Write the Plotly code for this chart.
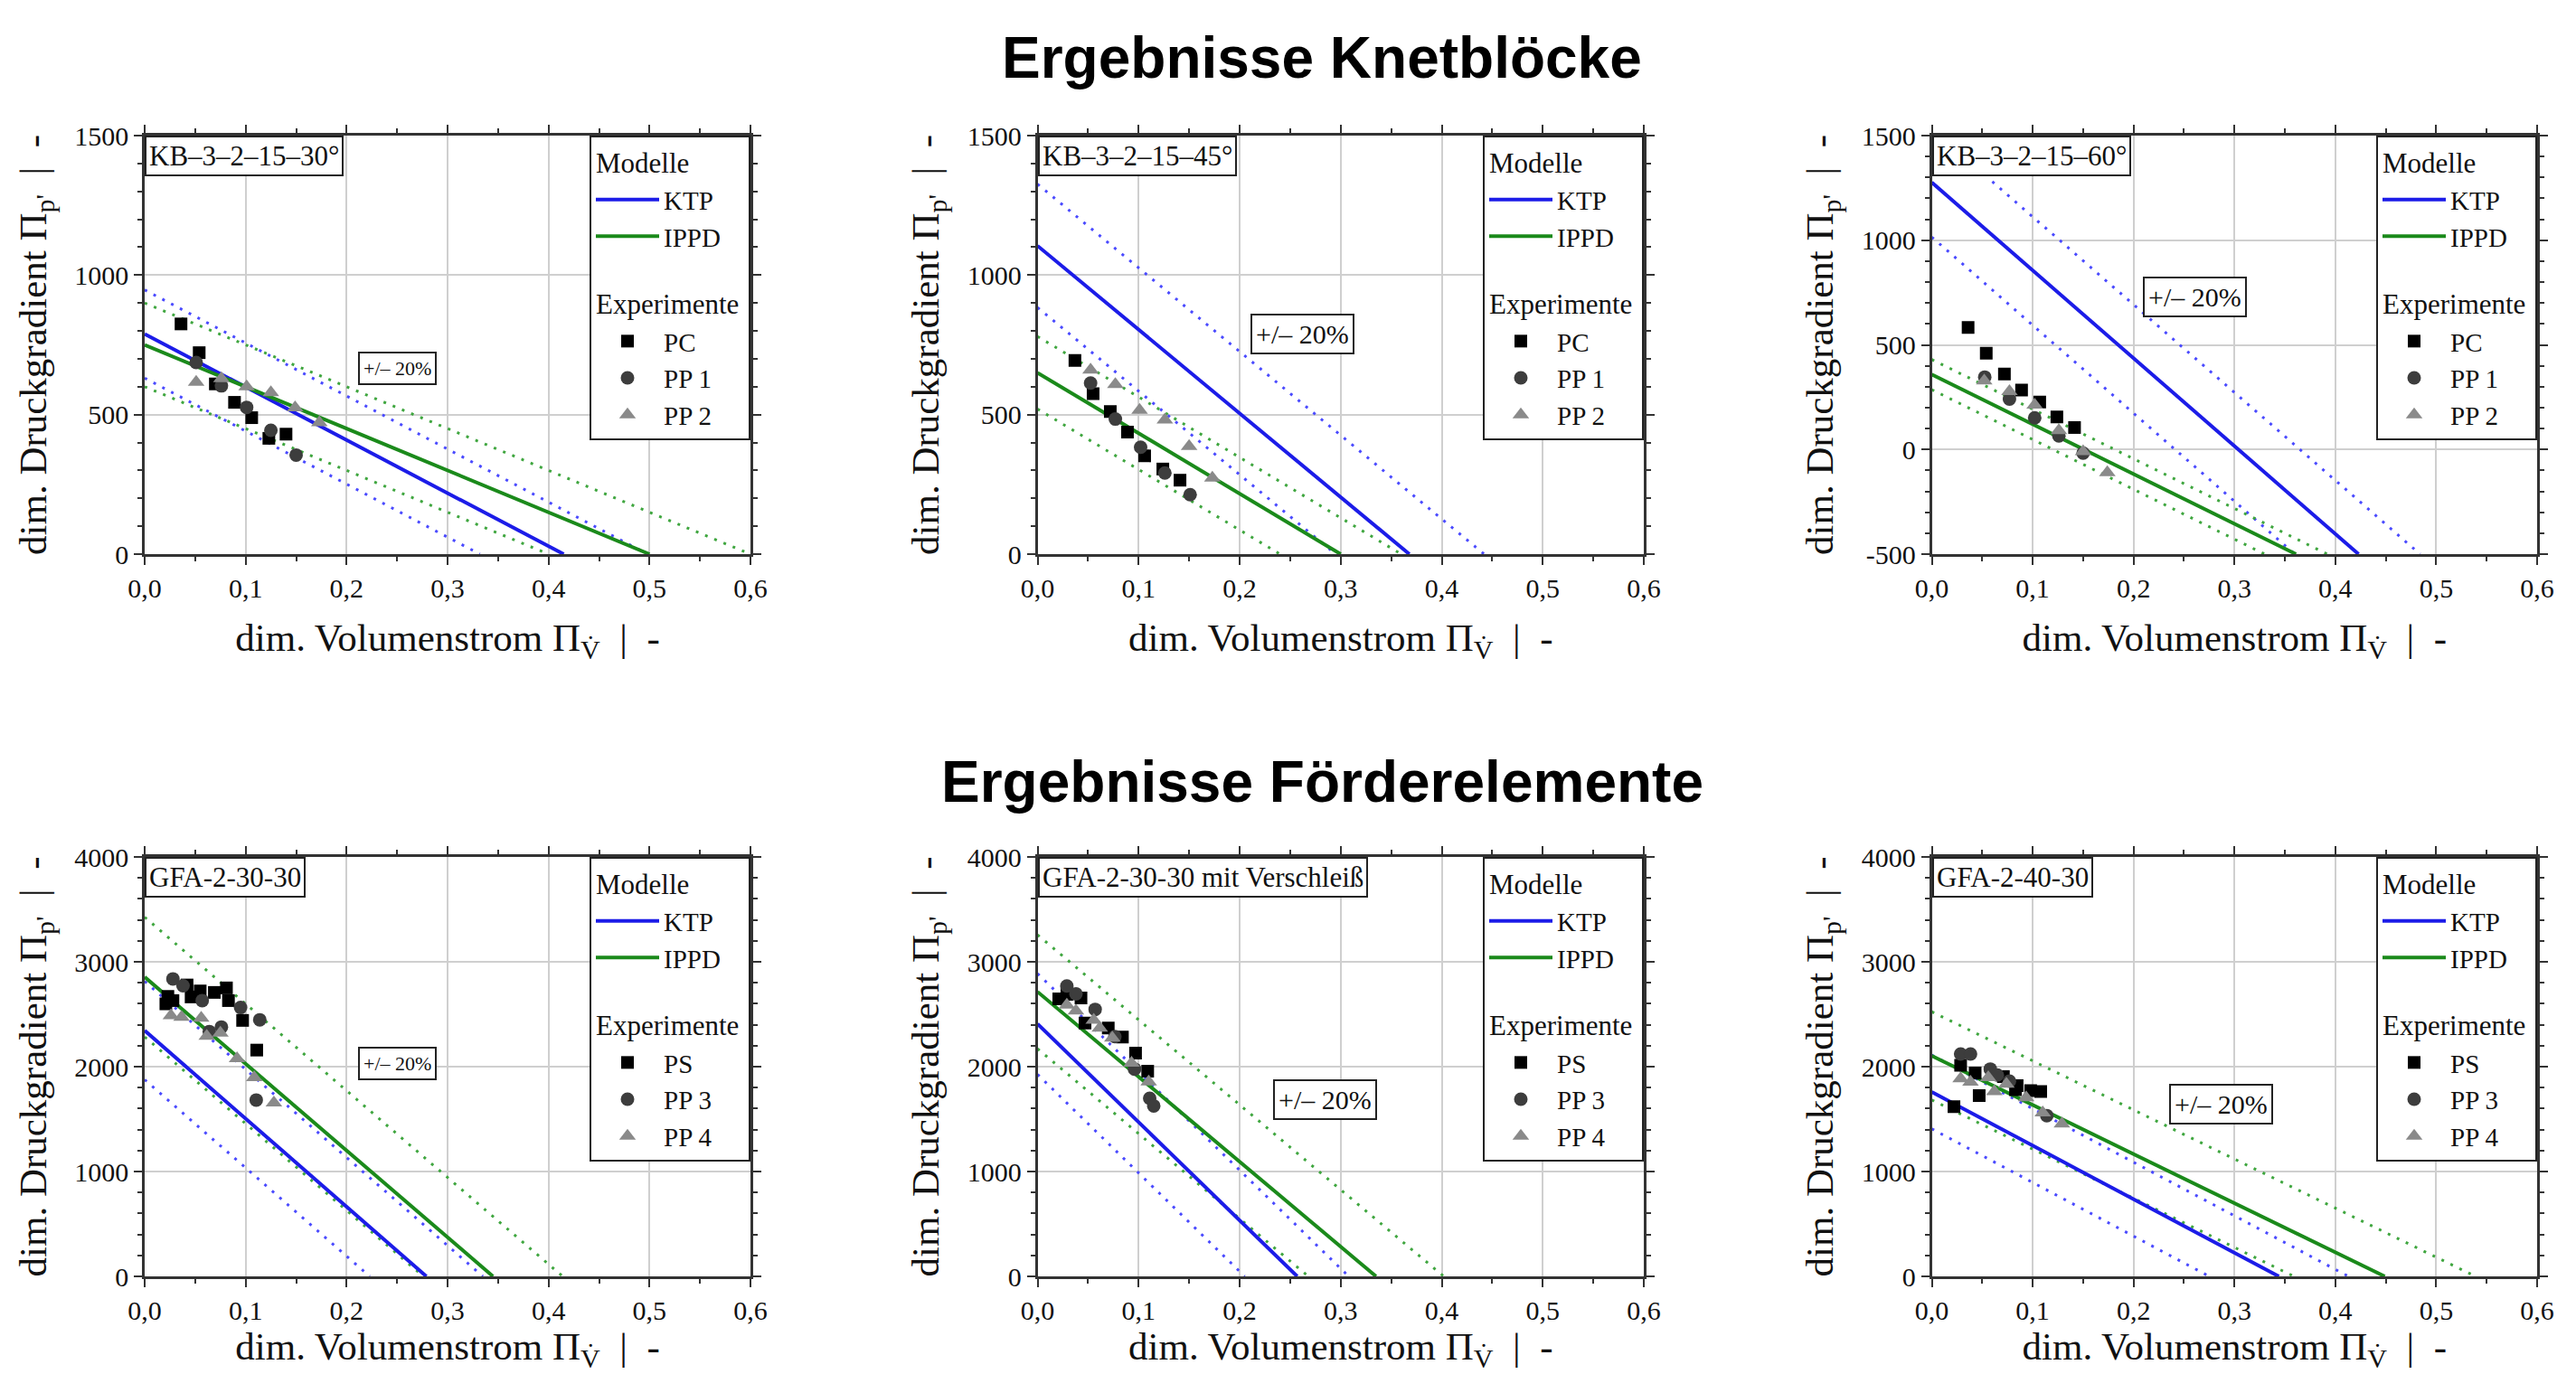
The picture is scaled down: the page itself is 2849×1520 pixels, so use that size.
import plotly.graph_objects as go

# ---------------- tick labels ----------------
x_tickvals = [0, 0.1, 0.2, 0.3, 0.4, 0.5, 0.6]
x_ticktext = ["0,0", "0,1", "0,2", "0,3", "0,4", "0,5", "0,6"]
kb_y_tickvals = [0, 500, 1000, 1500]
kb_y_ticktext = ["0", "500", "1000", "1500"]
kb60_y_tickvals = [-500, 0, 500, 1000, 1500]
kb60_y_ticktext = ["-500", "0", "500", "1000", "1500"]
gfa_y_tickvals = [0, 1000, 2000, 3000, 4000]
gfa_y_ticktext = ["0", "1000", "2000", "3000", "4000"]

# ---------------- KB-3-2-15-30° ----------------
kb30_pc_x = [0.036, 0.054, 0.070, 0.089, 0.106, 0.123, 0.140]
kb30_pc_y = [825, 722, 610, 544, 489, 415, 430]
kb30_pp1_x = [0.051, 0.076, 0.101, 0.125, 0.150]
kb30_pp1_y = [687, 603, 526, 444, 355]
kb30_pp2_x = [0.051, 0.076, 0.101, 0.125, 0.149, 0.173]
kb30_pp2_y = [616, 629, 600, 579, 525, 471]
kb30_ktp_x, kb30_ktp_y = [0, 0.415], [789, 0]
kb30_ktp_hi_x, kb30_ktp_hi_y = [0, 0.498], [947, 0]
kb30_ktp_lo_x, kb30_ktp_lo_y = [0, 0.332], [631, 0]
kb30_ippd_x, kb30_ippd_y = [0, 0.5], [750, 0]
kb30_ippd_hi_x, kb30_ippd_hi_y = [0, 0.6], [900, 0]
kb30_ippd_lo_x, kb30_ippd_lo_y = [0, 0.4], [600, 0]

# ---------------- KB-3-2-15-45° ----------------
kb45_pc_x = [0.037, 0.055, 0.072, 0.089, 0.106, 0.124, 0.141]
kb45_pc_y = [694, 575, 511, 437, 352, 305, 265]
kb45_pp1_x = [0.0525, 0.077, 0.102, 0.126, 0.151]
kb45_pp1_y = [613, 484, 383, 291, 213]
kb45_pp2_x = [0.0525, 0.077, 0.101, 0.126, 0.150, 0.173]
kb45_pp2_y = [660, 608, 516, 481, 386, 273]
kb45_ktp_x, kb45_ktp_y = [0, 0.368], [1105, 0]
kb45_ktp_hi_x, kb45_ktp_hi_y = [0, 0.442], [1326, 0]
kb45_ktp_lo_x, kb45_ktp_lo_y = [0, 0.295], [884, 0]
kb45_ippd_x, kb45_ippd_y = [0, 0.30], [650, 0]
kb45_ippd_hi_x, kb45_ippd_hi_y = [0, 0.36], [780, 0]
kb45_ippd_lo_x, kb45_ippd_lo_y = [0, 0.24], [520, 0]

# ---------------- KB-3-2-15-60° ----------------
kb60_pc_x = [0.036, 0.054, 0.072, 0.089, 0.107, 0.124, 0.1415]
kb60_pc_y = [583, 460, 361, 284, 227, 155, 105]
kb60_pp1_x = [0.0525, 0.077, 0.102, 0.126, 0.150]
kb60_pp1_y = [346, 241, 151, 65, -17]
kb60_pp2_x = [0.052, 0.077, 0.102, 0.126, 0.150, 0.174]
kb60_pp2_y = [328, 277, 213, 91, -10, -110]
kb60_ktp_x, kb60_ktp_y = [0, 0.423], [1276, -500]
kb60_ktp_hi_x, kb60_ktp_hi_y = [0.06, 0.484], [1280, -500]
kb60_ktp_lo_x, kb60_ktp_lo_y = [0, 0.36], [1015, -500]
kb60_ippd_x, kb60_ippd_y = [0, 0.361], [358, -500]
kb60_ippd_hi_x, kb60_ippd_hi_y = [0, 0.392], [430, -500]
kb60_ippd_lo_x, kb60_ippd_lo_y = [0, 0.33], [286, -500]

# ---------------- GFA-2-30-30 ----------------
gfa30_ps_x = [0.021, 0.023, 0.028, 0.042, 0.046, 0.055, 0.069, 0.081, 0.083, 0.097, 0.111]
gfa30_ps_y = [2599, 2670, 2630, 2779, 2665, 2722, 2708, 2751, 2630, 2441, 2158]
gfa30_pp3_x = [0.028, 0.038, 0.057, 0.064, 0.076, 0.095, 0.114, 0.1105]
gfa30_pp3_y = [2837, 2771, 2630, 2335, 2378, 2564, 2447, 1682]
gfa30_pp4_x = [0.026, 0.0365, 0.056, 0.0615, 0.075, 0.0915, 0.1085, 0.128]
gfa30_pp4_y = [2487, 2473, 2464, 2292, 2321, 2077, 1897, 1656]
gfa30_ktp_x, gfa30_ktp_y = [0, 0.279], [2345, 0]
gfa30_ktp_hi_x, gfa30_ktp_hi_y = [0, 0.335], [2814, 0]
gfa30_ktp_lo_x, gfa30_ktp_lo_y = [0, 0.223], [1876, 0]
gfa30_ippd_x, gfa30_ippd_y = [0, 0.345], [2855, 0]
gfa30_ippd_hi_x, gfa30_ippd_hi_y = [0, 0.414], [3426, 0]
gfa30_ippd_lo_x, gfa30_ippd_lo_y = [0, 0.276], [2284, 0]

# ---------------- GFA-2-30-30 mit Verschleiß ----------------
gfa30v_ps_x = [0.021, 0.029, 0.043, 0.047, 0.070, 0.084, 0.097, 0.109]
gfa30v_ps_y = [2647, 2690, 2655, 2417, 2368, 2282, 2129, 1957]
gfa30v_pp3_x = [0.029, 0.038, 0.057, 0.0765, 0.096, 0.111, 0.115]
gfa30v_pp3_y = [2770, 2695, 2546, 2287, 1977, 1698, 1626]
gfa30v_pp4_x = [0.029, 0.038, 0.0556, 0.0616, 0.074, 0.093, 0.110]
gfa30v_pp4_y = [2589, 2532, 2445, 2368, 2273, 2034, 1856]
gfa30v_ktp_x, gfa30v_ktp_y = [0, 0.257], [2407, 0]
gfa30v_ktp_hi_x, gfa30v_ktp_hi_y = [0, 0.308], [2888, 0]
gfa30v_ktp_lo_x, gfa30v_ktp_lo_y = [0, 0.205], [1926, 0]
gfa30v_ippd_x, gfa30v_ippd_y = [0, 0.335], [2714, 0]
gfa30v_ippd_hi_x, gfa30v_ippd_hi_y = [0, 0.402], [3257, 0]
gfa30v_ippd_lo_x, gfa30v_ippd_lo_y = [0, 0.268], [2171, 0]

# ---------------- GFA-2-40-30 ----------------
gfa40_ps_x = [0.022, 0.0286, 0.043, 0.047, 0.071, 0.083, 0.0846, 0.098, 0.108]
gfa40_ps_y = [1619, 2012, 1940, 1725, 1905, 1780, 1820, 1771, 1762]
gfa40_pp3_x = [0.0286, 0.0384, 0.058, 0.065, 0.077, 0.114]
gfa40_pp3_y = [2121, 2121, 1977, 1920, 1862, 1533]
gfa40_pp4_x = [0.0286, 0.0384, 0.056, 0.062, 0.074, 0.0935, 0.110, 0.129]
gfa40_pp4_y = [1886, 1854, 1897, 1762, 1834, 1705, 1561, 1455]
gfa40_ktp_x, gfa40_ktp_y = [0, 0.344], [1759, 0]
gfa40_ktp_hi_x, gfa40_ktp_hi_y = [0, 0.413], [2111, 0]
gfa40_ktp_lo_x, gfa40_ktp_lo_y = [0, 0.275], [1407, 0]
gfa40_ippd_x, gfa40_ippd_y = [0, 0.449], [2103, 0]
gfa40_ippd_hi_x, gfa40_ippd_hi_y = [0, 0.539], [2524, 0]
gfa40_ippd_lo_x, gfa40_ippd_lo_y = [0, 0.359], [1682, 0]

titles = ["Ergebnisse Knetblöcke", "Ergebnisse Förderelemente"]
panel_labels = ["KB–3–2–15–30°", "KB–3–2–15–45°", "KB–3–2–15–60°",
                "GFA-2-30-30", "GFA-2-30-30 mit Verschleiß", "GFA-2-40-30"]
band_label = "+/– 20%"
band_pos = [(0.25, 665, 22), (0.2625, 788, 30), (0.261, 731, 30),
            (0.25, 2031, 22), (0.285, 1685, 30), (0.287, 1638, 30)]
exp_names_kb = ["PC", "PP 1", "PP 2"]
exp_names_gfa = ["PS", "PP 3", "PP 4"]

# ---------------- build ----------------
W, H = 2849, 1520
SERIF = "Liberation Serif, Times New Roman, serif"
C_KTP, C_IPPD = "#1c1ce8", "#1b8a1b"
C_KTP_D, C_IPPD_D = "#4a4aff", "#3fa63f"
C_SQ, C_CI, C_TR = "#000000", "#3d3d3d", "#8a8a8a"

col_px = [(160, 830), (1147.5, 1818), (2136.5, 2806)]
row_px = [(150, 613), (948, 1412)]

panels = [
    dict(pc=(kb30_pc_x, kb30_pc_y), p1=(kb30_pp1_x, kb30_pp1_y), p2=(kb30_pp2_x, kb30_pp2_y),
         ktp=(kb30_ktp_x, kb30_ktp_y), ktp_hi=(kb30_ktp_hi_x, kb30_ktp_hi_y), ktp_lo=(kb30_ktp_lo_x, kb30_ktp_lo_y),
         ippd=(kb30_ippd_x, kb30_ippd_y), ippd_hi=(kb30_ippd_hi_x, kb30_ippd_hi_y), ippd_lo=(kb30_ippd_lo_x, kb30_ippd_lo_y),
         names=exp_names_kb, yr=[0, 1500], yt=(kb_y_tickvals, kb_y_ticktext), ymin=100),
    dict(pc=(kb45_pc_x, kb45_pc_y), p1=(kb45_pp1_x, kb45_pp1_y), p2=(kb45_pp2_x, kb45_pp2_y),
         ktp=(kb45_ktp_x, kb45_ktp_y), ktp_hi=(kb45_ktp_hi_x, kb45_ktp_hi_y), ktp_lo=(kb45_ktp_lo_x, kb45_ktp_lo_y),
         ippd=(kb45_ippd_x, kb45_ippd_y), ippd_hi=(kb45_ippd_hi_x, kb45_ippd_hi_y), ippd_lo=(kb45_ippd_lo_x, kb45_ippd_lo_y),
         names=exp_names_kb, yr=[0, 1500], yt=(kb_y_tickvals, kb_y_ticktext), ymin=100),
    dict(pc=(kb60_pc_x, kb60_pc_y), p1=(kb60_pp1_x, kb60_pp1_y), p2=(kb60_pp2_x, kb60_pp2_y),
         ktp=(kb60_ktp_x, kb60_ktp_y), ktp_hi=(kb60_ktp_hi_x, kb60_ktp_hi_y), ktp_lo=(kb60_ktp_lo_x, kb60_ktp_lo_y),
         ippd=(kb60_ippd_x, kb60_ippd_y), ippd_hi=(kb60_ippd_hi_x, kb60_ippd_hi_y), ippd_lo=(kb60_ippd_lo_x, kb60_ippd_lo_y),
         names=exp_names_kb, yr=[-500, 1500], yt=(kb60_y_tickvals, kb60_y_ticktext), ymin=100),
    dict(pc=(gfa30_ps_x, gfa30_ps_y), p1=(gfa30_pp3_x, gfa30_pp3_y), p2=(gfa30_pp4_x, gfa30_pp4_y),
         ktp=(gfa30_ktp_x, gfa30_ktp_y), ktp_hi=(gfa30_ktp_hi_x, gfa30_ktp_hi_y), ktp_lo=(gfa30_ktp_lo_x, gfa30_ktp_lo_y),
         ippd=(gfa30_ippd_x, gfa30_ippd_y), ippd_hi=(gfa30_ippd_hi_x, gfa30_ippd_hi_y), ippd_lo=(gfa30_ippd_lo_x, gfa30_ippd_lo_y),
         names=exp_names_gfa, yr=[0, 4000], yt=(gfa_y_tickvals, gfa_y_ticktext), ymin=200),
    dict(pc=(gfa30v_ps_x, gfa30v_ps_y), p1=(gfa30v_pp3_x, gfa30v_pp3_y), p2=(gfa30v_pp4_x, gfa30v_pp4_y),
         ktp=(gfa30v_ktp_x, gfa30v_ktp_y), ktp_hi=(gfa30v_ktp_hi_x, gfa30v_ktp_hi_y), ktp_lo=(gfa30v_ktp_lo_x, gfa30v_ktp_lo_y),
         ippd=(gfa30v_ippd_x, gfa30v_ippd_y), ippd_hi=(gfa30v_ippd_hi_x, gfa30v_ippd_hi_y), ippd_lo=(gfa30v_ippd_lo_x, gfa30v_ippd_lo_y),
         names=exp_names_gfa, yr=[0, 4000], yt=(gfa_y_tickvals, gfa_y_ticktext), ymin=200),
    dict(pc=(gfa40_ps_x, gfa40_ps_y), p1=(gfa40_pp3_x, gfa40_pp3_y), p2=(gfa40_pp4_x, gfa40_pp4_y),
         ktp=(gfa40_ktp_x, gfa40_ktp_y), ktp_hi=(gfa40_ktp_hi_x, gfa40_ktp_hi_y), ktp_lo=(gfa40_ktp_lo_x, gfa40_ktp_lo_y),
         ippd=(gfa40_ippd_x, gfa40_ippd_y), ippd_hi=(gfa40_ippd_hi_x, gfa40_ippd_hi_y), ippd_lo=(gfa40_ippd_lo_x, gfa40_ippd_lo_y),
         names=exp_names_gfa, yr=[0, 4000], yt=(gfa_y_tickvals, gfa_y_ticktext), ymin=200),
]

fig = go.Figure()
layout = dict(width=W, height=H, margin=dict(l=0, r=0, t=0, b=0, autoexpand=False),
              paper_bgcolor="white", plot_bgcolor="white",
              font=dict(family=SERIF, size=30, color="#111111"),
              showlegend=True, annotations=[])

axis_line = dict(showline=True, linecolor="#333333", linewidth=2.5, mirror="allticks",
                 ticks="outside", ticklen=9, tickwidth=2, tickcolor="#333333",
                 showgrid=True, gridcolor="#cfcfcf", gridwidth=2, zeroline=False,
                 automargin=False,
                 tickfont=dict(family=SERIF, size=30, color="#111111"))

for i, p in enumerate(panels):
    r, c = divmod(i, 3)
    n = i + 1
    xs = "" if n == 1 else str(n)
    xa, ya = "x" + xs, "y" + xs
    leg = "legend" + xs
    x0, x1 = col_px[c]
    yt_px, yb_px = row_px[r]
    dx = [x0 / W, x1 / W]
    dy = [1 - yb_px / H, 1 - yt_px / H]

    layout["xaxis" + xs] = dict(
        domain=dx, anchor=ya, range=[0, 0.6], tickmode="array",
        tickvals=x_tickvals, ticktext=x_ticktext,
        minor=dict(dtick=0.05, tick0=0, ticks="outside", ticklen=5, tickwidth=2,
                   tickcolor="#333333", showgrid=False),
        title=dict(text="dim. Volumenstrom Π<sub>V̇</sub>\u00a0\u00a0|\u00a0\u00a0-",
                   font=dict(family=SERIF, size=43, color="#111111"), standoff=25),
        **axis_line)
    layout["yaxis" + xs] = dict(
        domain=dy, anchor=xa, range=p["yr"], tickmode="array",
        tickvals=p["yt"][0], ticktext=p["yt"][1],
        minor=dict(dtick=p["ymin"], tick0=0, ticks="outside", ticklen=5, tickwidth=2,
                   tickcolor="#333333", showgrid=False),
        title=dict(text="dim. Druckgradient Π<sub>p'</sub>\u00a0\u00a0|\u00a0\u00a0-",
                   font=dict(family=SERIF, size=43, color="#111111"), standoff=18),
        **axis_line)

    layout[leg] = dict(x=dx[1], y=dy[1], xanchor="right", yanchor="top",
                       xref="paper", yref="paper",
                       bgcolor="white", bordercolor="#222222", borderwidth=2,
                       font=dict(family=SERIF, size=29, color="#111111"),
                       traceorder="grouped", tracegroupgap=32, itemwidth=70,
                       grouptitlefont=dict(family=SERIF, size=31, color="#111111"))

    # dotted +/- 20% lines
    for key, col in [("ktp_hi", C_KTP_D), ("ktp_lo", C_KTP_D),
                     ("ippd_hi", C_IPPD_D), ("ippd_lo", C_IPPD_D)]:
        fig.add_trace(go.Scatter(x=p[key][0], y=p[key][1], mode="lines", xaxis=xa, yaxis=ya,
                                 line=dict(color=col, width=3, dash="3px,8px"),
                                 showlegend=False, hoverinfo="skip"))
    # model lines
    fig.add_trace(go.Scatter(x=p["ktp"][0], y=p["ktp"][1], mode="lines", name="KTP",
                             xaxis=xa, yaxis=ya, line=dict(color=C_KTP, width=4),
                             legend=leg, legendgroup="m" + xs,
                             legendgrouptitle=dict(text="Modelle")))
    fig.add_trace(go.Scatter(x=p["ippd"][0], y=p["ippd"][1], mode="lines", name="IPPD",
                             xaxis=xa, yaxis=ya, line=dict(color=C_IPPD, width=4),
                             legend=leg, legendgroup="m" + xs))
    # experiments
    for key, nm, sym, col, sz in [("pc", p["names"][0], "square", C_SQ, 14),
                                  ("p1", p["names"][1], "circle", C_CI, 15),
                                  ("p2", p["names"][2], "triangle-up", C_TR, 16)]:
        kw = dict(legendgrouptitle=dict(text="Experimente")) if key == "pc" else {}
        fig.add_trace(go.Scatter(x=p[key][0], y=p[key][1], mode="markers", name=nm,
                                 xaxis=xa, yaxis=ya,
                                 marker=dict(symbol=sym, color=col, size=sz, line=dict(width=0)),
                                 legend=leg, legendgroup="e" + xs, **kw))

    # panel label box
    layout["annotations"].append(dict(
        text=panel_labels[i], xref=xa + " domain", yref=ya + " domain", x=0, y=1,
        xanchor="left", yanchor="top", showarrow=False,
        font=dict(family=SERIF, size=31, color="#111111"),
        bgcolor="white", bordercolor="#222222", borderwidth=2, borderpad=3))
    # +/- 20% label
    bx, by, bs = band_pos[i]
    layout["annotations"].append(dict(
        text=band_label, xref=xa, yref=ya, x=bx, y=by, showarrow=False,
        font=dict(family=SERIF, size=bs, color="#111111"),
        bgcolor="white", bordercolor="#222222", borderwidth=2, borderpad=4))

# section titles
for t, yc in zip(titles, [64, 865]):
    layout["annotations"].append(dict(
        text="<b>" + t + "</b>", xref="paper", yref="paper", x=1462 / W, y=1 - yc / H,
        xanchor="center", yanchor="middle", showarrow=False,
        font=dict(family="Liberation Sans, Arial, sans-serif", size=64, color="#000000")))

fig.update_layout(**layout)
fig.write_html("out.html", include_plotlyjs=True, config={"displayModeBar": False},
               post_script="document.body.style.margin='0';document.body.style.overflow='hidden';")
